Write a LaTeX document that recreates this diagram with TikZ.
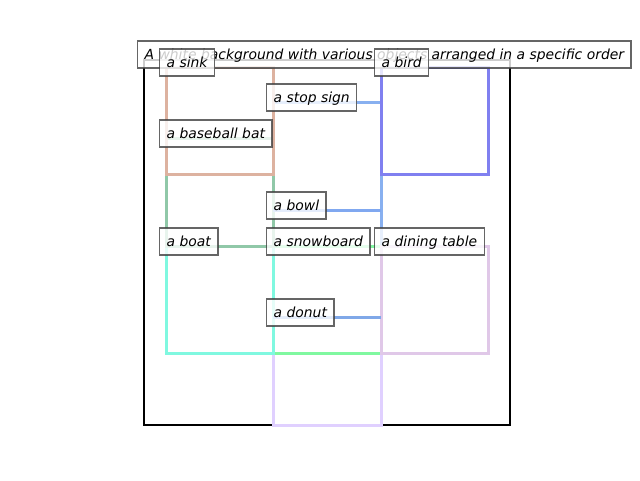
\documentclass[tikz,border=0pt]{standalone}
\usepackage{fontspec}
\setmainfont{DejaVu Sans}
\begin{document}
\begin{tikzpicture}[x=1pt,y=-1pt,
  objbox/.style={line width=3pt},
  lbl/.style={draw=black!75, line width=1.3pt, fill=white, fill opacity=0.8, text opacity=1,
    draw opacity=0.8, anchor=base west, inner sep=7pt, text height=11pt, text depth=2pt,
    font=\fontsize{13.9}{16}\selectfont\itshape},
]
\definecolor{csink}{HTML}{DDB2A0}
\definecolor{cbird}{HTML}{8080F0}
\definecolor{cbat}{HTML}{90C8A8}
\definecolor{cstop}{HTML}{88B0F0}
\definecolor{cbowl}{HTML}{80A8F0}
\definecolor{cdonut}{HTML}{80A8E8}
\definecolor{cboat}{HTML}{80F8E0}
\definecolor{csnow}{HTML}{80F8A0}
\definecolor{cdining}{HTML}{E0C8E8}
\definecolor{clav}{HTML}{E0D0FF}
\useasboundingbox (0,0) rectangle (640,480);
% frame
\draw[line width=2.6pt, black] (144,60) rectangle (510,425);
% object boxes
\draw[objbox, clav] (273,353) rectangle (381,425);
\draw[objbox, cstop] (273,102) rectangle (381,246);
\draw[objbox, csnow] (273,246) rectangle (381,353);
\draw[objbox, cdining] (381,246) rectangle (488,353);
\draw[objbox, cboat] (166,246) rectangle (273,353);
\draw[objbox, cbat] (166,138) rectangle (273,246);
\draw[objbox, csink] (166,67) rectangle (273,174);
\draw[objbox, cbird] (381,67) rectangle (488,174);
\coordinate (bowlA) at (273,210); \coordinate (bowlB) at (381,210);
\draw[objbox, cbowl] (bowlA) -- (bowlB);
\coordinate (donutA) at (273,317); \coordinate (donutB) at (381,317);
\draw[objbox, cdonut] (donutA) -- (donutB);
% labels
\node[lbl] (title) at (137,59) {A white background with various objects arranged in a specific order};
\node[lbl] (sink) at (159,67) {a sink};
\node[lbl] (bird) at (374,67) {a bird};
\node[lbl] (stop) at (266,102) {a stop sign};
\node[lbl] (bat) at (159,138) {a baseball bat};
\node[lbl] (bowl) at (266,210) {a bowl};
\node[lbl] (boat) at (159,246) {a boat};
\node[lbl] (snow) at (266,246) {a snowboard};
\node[lbl] (dining) at (374,246) {a dining table};
\node[lbl] (donut) at (266,317) {a donut};
\end{tikzpicture}
\end{document}
